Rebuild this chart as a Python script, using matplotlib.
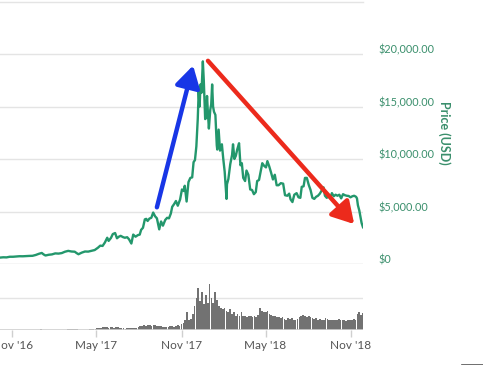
import matplotlib
matplotlib.use('Agg')
import matplotlib.pyplot as plt
from matplotlib.lines import Line2D
from matplotlib.transforms import ScaledTranslation
import pandas as pd

# ---------------- data ----------------
price_dates = [
    '2016-10-06', '2016-10-13', '2016-10-20', '2016-10-27', '2016-11-03', '2016-11-10', '2016-11-17',
    '2016-11-24', '2016-12-01', '2016-12-08', '2016-12-15', '2016-12-22', '2016-12-29', '2017-01-04',
    '2017-01-08', '2017-01-12', '2017-01-19', '2017-01-26', '2017-02-02', '2017-02-09', '2017-02-16',
    '2017-02-23', '2017-03-02', '2017-03-09', '2017-03-16', '2017-03-20', '2017-03-24', '2017-03-31',
    '2017-04-07', '2017-04-14', '2017-04-21', '2017-04-28', '2017-05-05', '2017-05-10', '2017-05-15',
    '2017-05-20', '2017-05-25', '2017-05-28', '2017-06-02', '2017-06-06', '2017-06-11', '2017-06-15',
    '2017-06-19', '2017-06-23', '2017-06-28', '2017-07-02', '2017-07-07', '2017-07-11', '2017-07-16',
    '2017-07-20', '2017-07-25', '2017-07-30', '2017-08-03', '2017-08-06', '2017-08-10', '2017-08-14',
    '2017-08-17', '2017-08-20', '2017-08-24', '2017-08-28', '2017-09-01', '2017-09-05', '2017-09-09',
    '2017-09-14', '2017-09-18', '2017-09-22', '2017-09-27', '2017-10-01', '2017-10-05', '2017-10-09',
    '2017-10-12', '2017-10-16', '2017-10-20', '2017-10-24', '2017-10-29', '2017-11-02', '2017-11-06',
    '2017-11-08', '2017-11-12', '2017-11-16', '2017-11-20', '2017-11-24', '2017-11-27', '2017-11-30',
    '2017-12-03', '2017-12-06', '2017-12-08', '2017-12-10', '2017-12-12', '2017-12-14', '2017-12-17',
    '2017-12-19', '2017-12-22', '2017-12-24', '2017-12-26', '2017-12-28', '2017-12-30', '2018-01-02',
    '2018-01-04', '2018-01-06', '2018-01-08', '2018-01-10', '2018-01-13', '2018-01-16', '2018-01-17',
    '2018-01-20', '2018-01-23', '2018-01-27', '2018-01-30', '2018-02-02', '2018-02-05', '2018-02-06',
    '2018-02-07', '2018-02-10', '2018-02-14', '2018-02-18', '2018-02-20', '2018-02-23', '2018-02-26',
    '2018-03-01', '2018-03-05', '2018-03-08', '2018-03-11', '2018-03-14', '2018-03-18', '2018-03-21',
    '2018-03-25', '2018-03-29', '2018-04-02', '2018-04-06', '2018-04-10', '2018-04-13', '2018-04-17',
    '2018-04-21', '2018-04-24', '2018-04-28', '2018-05-02', '2018-05-05', '2018-05-09', '2018-05-13',
    '2018-05-17', '2018-05-21', '2018-05-25', '2018-05-29', '2018-06-03', '2018-06-08', '2018-06-12',
    '2018-06-17', '2018-06-21', '2018-06-24', '2018-06-28', '2018-07-02', '2018-07-07', '2018-07-11',
    '2018-07-15', '2018-07-18', '2018-07-22', '2018-07-25', '2018-07-29', '2018-08-02', '2018-08-06',
    '2018-08-10', '2018-08-14', '2018-08-18', '2018-08-22', '2018-08-26', '2018-08-30', '2018-09-03',
    '2018-09-06', '2018-09-10', '2018-09-14', '2018-09-18', '2018-09-21', '2018-09-25', '2018-09-29',
    '2018-10-03', '2018-10-07', '2018-10-11', '2018-10-15', '2018-10-19', '2018-10-23', '2018-10-27',
    '2018-10-31', '2018-11-04', '2018-11-08', '2018-11-12', '2018-11-14', '2018-11-16', '2018-11-19',
    '2018-11-21', '2018-11-24', '2018-11-27',
]
price_values = [
    610, 640, 630, 690, 690, 715, 740,
    735, 755, 770, 780, 860, 975, 1050,
    910, 810, 880, 915, 1010, 990, 1040,
    1170, 1250, 1190, 1170, 1040, 930, 1080,
    1190, 1180, 1250, 1330, 1550, 1750, 1720,
    2050, 2500, 2200, 2480, 2850, 2950, 2450,
    2600, 2680, 2560, 2500, 2550, 2350, 1950,
    2800, 2600, 2750, 2800, 3250, 3450, 4250,
    4300, 4100, 4330, 4400, 4900, 4550, 4350,
    3300, 4050, 3650, 4200, 4400, 4350, 4800,
    5450, 5700, 6000, 5550, 6150, 7100, 6950,
    7450, 5950, 7800, 8200, 8250, 9700, 9900,
    11200, 13800, 16400, 15000, 17100, 16300, 19300,
    17500, 13800, 13900, 16000, 14300, 12900, 14700,
    15200, 17100, 15000, 14500, 14200, 11300, 10900,
    12800, 10800, 11400, 10000, 8800, 6950, 6200,
    7600, 8100, 9500, 10400, 11400, 10000, 10300,
    10900, 11500, 9400, 9600, 8200, 7900, 8900,
    8500, 7100, 7050, 6650, 6850, 7900, 8000,
    8900, 9600, 9350, 9200, 9800, 9300, 8700,
    8050, 8500, 7500, 7500, 7700, 7650, 6550,
    6500, 6700, 6150, 5900, 6600, 6750, 6350,
    6300, 7350, 7400, 8200, 8200, 7550, 7050,
    6300, 6200, 6400, 6500, 6700, 7000, 7300,
    6500, 6300, 6500, 6350, 6750, 6450, 6600,
    6500, 6600, 6250, 6650, 6550, 6500, 6480,
    6350, 6450, 6500, 6400, 6250, 5600, 5100,
    4600, 3900, 3500,
]

# volume (billions USD), one value per ~4 days from start to end
volume_start = '2016-10-06'
volume_end = '2018-11-27'
volume_values = [
    0.1, 0.1, 0.1, 0.1, 0.1, 0.1,
    0.1, 0.1, 0.1, 0.1, 0.1, 0.1, 0.1, 0.1,
    0.1, 0.1, 0.1, 0.15, 0.2, 0.2, 0.2, 0.3,
    0.5, 0.3, 0.2, 0.2, 0.2, 0.2, 0.2,
    0.2, 0.2, 0.2, 0.2, 0.3, 0.3, 0.3,
    0.4, 0.6, 0.5, 0.6, 0.5, 0.4, 0.3, 0.3,
    0.3, 0.3, 0.3, 0.3, 0.4, 0.4, 0.5,
    0.8, 1.0, 1.3, 1.2, 1.6, 2.0, 1.7, 1.5,
    1.6, 1.9, 1.5, 1.6, 1.7, 1.3, 1.2,
    1.0, 0.9, 1.1, 1.0, 1.3, 1.2, 1.4, 1.1,
    1.8, 2.2, 2.8, 3.2, 2.6, 2.9, 3.1, 2.7,
    3.0, 3.4, 2.6, 2.7, 2.2, 1.8, 1.9,
    1.6, 1.8, 2.2, 2.6, 2.0, 2.4, 3.0, 2.6,
    3.5, 4.5, 6, 11, 6, 7, 10,
    15, 20, 26, 18, 24, 16, 22, 17,
    29, 20, 17, 24, 19, 15, 14, 13,
    14, 12, 11, 13, 10, 11, 9,
    10, 9, 11, 8.5, 9, 8, 8.5, 9,
    8, 8.5, 8, 9.5, 14, 12, 11,
    11, 12, 10, 9.5, 9, 8.5, 8, 8,
    7.5, 8, 7, 6.5, 7.5, 7, 7.5, 6.5,
    6.5, 7, 8, 8.5, 9.5, 9, 8,
    8.5, 8, 7.5, 7, 7.5, 6.5, 7, 6.5,
    6.5, 7.5, 7, 6.5, 6, 6, 6.5,
    6.5, 7, 6, 6.5, 6, 5.5, 6, 6.5,
    6.5, 7, 6.5, 10, 11, 9.5, 10.5,
]

date_ticks = ['2016-11-01', '2017-05-01', '2017-11-01', '2018-05-01', '2018-11-01']
date_tick_labels = ["Nov '16", "May '17", "Nov '17", "May '18", "Nov '18"]
price_ticks = [0, 5000, 10000, 15000, 20000]
price_tick_labels = ['$0', '$5,000.00', '$10,000.00', '$15,000.00', '$20,000.00']
axis_title = 'Price (USD)'

# arrows: (date, price) tail -> head
up_arrow = (('2017-09-09', 5400), ('2017-11-26', 18900))
down_arrow = (('2017-12-28', 19350), ('2018-11-08', 3800))

# ---------------- drawing ----------------
W, H = 483, 365
plt.rcParams['font.family'] = ['Lato', 'DejaVu Sans']
fig = plt.figure(figsize=(W / 100, H / 100), dpi=100)
fig.patch.set_facecolor('white')

GREEN = '#23976c'
LABEL_GREEN = '#3a8f6c'
GRID = '#e4e4e4'

xmin, xmax = pd.Timestamp('2016-10-06'), pd.Timestamp('2018-11-27')

# price panel
ax = fig.add_axes([0, 1 - 264 / H, 363 / W, (264 - 30) / H])
ax.set_xlim(xmin, xmax)
ax.set_ylim(0, 5000 * 234 / 52.5)
for t in price_ticks:
    ax.axhline(t, color='#d6d6d6' if t == 0 else GRID, lw=1.0, zorder=1)
ax.plot(pd.to_datetime(price_dates), price_values, color=GREEN, lw=1.7, zorder=3,
        solid_joinstyle='round')
for s in ax.spines.values():
    s.set_visible(False)
ax.set_xticks([])
ax.yaxis.tick_right()
ax.set_yticks(price_ticks)
ax.set_yticklabels(price_tick_labels)
ax.tick_params(axis='y', length=0, pad=11, labelcolor=LABEL_GREEN, labelsize=7.8)
shift = ScaledTranslation(0, 5 / 100, fig.dpi_scale_trans)
for lbl in ax.get_yticklabels():
    lbl.set_transform(lbl.get_transform() + shift)

for (t0, p0), (t1, p1), col in [(up_arrow[0], up_arrow[1], '#1836e6'),
                                (down_arrow[0], down_arrow[1], '#ec2a1c')]:
    ax.annotate('', xy=(pd.Timestamp(t1), p1), xytext=(pd.Timestamp(t0), p0),
                arrowprops=dict(arrowstyle='-|>,head_length=0.65,head_width=0.38',
                                color=col, lw=3.2, shrinkA=0, shrinkB=0,
                                mutation_scale=20),
                zorder=5)

fig.text(444 / W, 1 - 133 / H, axis_title, rotation=270, ha='center', va='center',
         color=LABEL_GREEN, fontsize=9.0, fontweight='bold')

# volume panel
axv = fig.add_axes([0, 1 - 330 / H, 363 / W, 50 / H])
axv.set_xlim(xmin, xmax)
axv.set_ylim(0, 20 * 50 / 32)
vol_pos = pd.date_range(volume_start, volume_end, periods=len(volume_values))
step = (pd.Timestamp(volume_end) - pd.Timestamp(volume_start)).days / (len(volume_values) - 1)
axv.bar(vol_pos, volume_values, width=step * 0.92, color='#727272', lw=0, zorder=3)
axv.axhline(20, color=GRID, lw=1.0, zorder=1)
axv.axhline(0, color='#cfcfcf', lw=1.2, zorder=4)
for s in axv.spines.values():
    s.set_visible(False)
axv.set_yticks([])
axv.set_xticks(pd.to_datetime(date_ticks))
axv.set_xticklabels(date_tick_labels)
axv.tick_params(axis='x', length=5, width=1, color='#cfcfcf', labelcolor='#555555',
                labelsize=8.5, pad=2)

# thin frame line at top and small dark mark at bottom-right
fig.add_artist(Line2D([0, 363 / W], [1 - 2 / H, 1 - 2 / H], color=GRID, lw=1))
fig.add_artist(Line2D([462 / W, 1], [0.5 / H, 0.5 / H], color='#555555', lw=1.2))

fig.savefig('out.png', dpi=100, facecolor='white')
